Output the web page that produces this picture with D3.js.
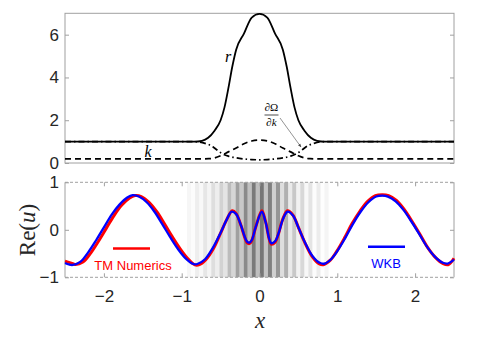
<!DOCTYPE html>
<html><head><meta charset="utf-8">
<script src="https://cdn.jsdelivr.net/npm/d3@7"></script>
<style>body{margin:0;background:#fff}svg{display:block}</style>
</head><body>
<svg id="c" width="504" height="346"></svg>
<script>
// ---------- data ----------
const rX   = [-2.5,-0.84,-0.74,-0.66,-0.58,-0.5,-0.45,-0.4,-0.35,-0.3,-0.2,-0.1,0,0.1,0.2,0.3,0.35,0.4,0.45,0.5,0.58,0.66,0.74,0.84,2.5];
const rY   = [1,1,1.04,1.18,1.5,2.0,2.6,3.5,4.5,5.3,6.05,6.8,6.97,6.8,6.05,5.3,4.5,3.5,2.6,2.0,1.5,1.18,1.04,1,1];
const kX   = [-2.5,-0.75,-0.65,-0.6,-0.5,-0.4,-0.3,-0.2,-0.1,0,0.1,0.2,0.3,0.4,0.5,0.6,0.65,0.75,2.5];
const kY   = [0.19,0.19,0.2,0.22,0.34,0.52,0.7,0.9,1.03,1.07,1.03,0.9,0.7,0.52,0.34,0.22,0.2,0.19,0.19];
const dX   = [-2.5,-0.9,-0.8,-0.7,-0.6,-0.55,-0.47,-0.4,-0.3,-0.2,-0.1,0,0.1,0.2,0.3,0.4,0.47,0.55,0.6,0.7,0.8,0.9,2.5];
const dY   = [1,1,0.99,0.92,0.76,0.62,0.42,0.32,0.24,0.19,0.16,0.15,0.16,0.19,0.24,0.32,0.42,0.62,0.76,0.92,0.99,1,1];

const wkbX = [-2.5,-2.45,-2.4,-2.3,-2.2,-2.1,-2.0,-1.9,-1.8,-1.7,-1.63,-1.55,-1.45,-1.35,-1.25,-1.15,-1.05,-0.95,-0.85,-0.8,-0.7,-0.6,-0.5,-0.42,-0.36,-0.3,-0.24,-0.16,-0.13,-0.1,-0.05,0.03,0.08,0.15,0.2,0.25,0.3,0.36,0.43,0.5,0.58,0.68,0.78,0.84,0.92,1.0,1.1,1.2,1.3,1.4,1.5,1.58,1.65,1.75,1.85,1.95,2.05,2.15,2.25,2.35,2.42,2.5];
const wkbY = [-0.70,-0.73,-0.74,-0.67,-0.47,-0.22,0.05,0.32,0.53,0.68,0.73,0.70,0.58,0.38,0.12,-0.15,-0.40,-0.60,-0.72,-0.72,-0.62,-0.38,-0.06,0.22,0.38,0.33,0.10,-0.25,-0.27,-0.22,0.05,0.38,0.15,-0.28,-0.24,-0.05,0.22,0.38,0.30,0.05,-0.25,-0.55,-0.70,-0.71,-0.62,-0.45,-0.18,0.12,0.38,0.58,0.70,0.72,0.70,0.60,0.42,0.18,-0.08,-0.35,-0.56,-0.69,-0.71,-0.63];
const tmX  = [-2.5,-2.42,-2.37,-2.27,-2.17,-2.07,-1.97,-1.87,-1.77,-1.67,-1.6,-1.52,-1.42,-1.32,-1.22,-1.12,-1.02,-0.92,-0.83,-0.78,-0.69,-0.59,-0.5,-0.42,-0.35,-0.3,-0.24,-0.16,-0.13,-0.1,-0.05,0.03,0.08,0.15,0.2,0.25,0.3,0.36,0.43,0.5,0.58,0.68,0.77,0.83,0.91,0.99,1.09,1.19,1.29,1.39,1.49,1.58,1.66,1.76,1.86,1.96,2.06,2.16,2.26,2.36,2.43,2.5];
const tmY  = [-0.66,-0.70,-0.73,-0.68,-0.49,-0.24,0.03,0.30,0.52,0.67,0.72,0.70,0.58,0.38,0.12,-0.15,-0.40,-0.61,-0.74,-0.74,-0.63,-0.39,-0.07,0.22,0.40,0.34,0.10,-0.27,-0.29,-0.23,0.05,0.40,0.16,-0.30,-0.26,-0.05,0.23,0.40,0.31,0.05,-0.26,-0.57,-0.72,-0.73,-0.64,-0.46,-0.18,0.13,0.39,0.60,0.72,0.74,0.72,0.62,0.43,0.18,-0.09,-0.37,-0.58,-0.71,-0.73,-0.60];

const layerCenters = [-0.906,-0.802,-0.698,-0.594,-0.49,-0.386,-0.282,-0.178,-0.074,0.03,0.134,0.238,0.342,0.446,0.55,0.654,0.758,0.862];
const darkGray  = [246,238,230,222,210,188,160,138,122,118,128,150,176,200,216,228,236,245];
const lightGray = [252,248,244,238,228,214,200,192,190,196,208,222,234,242,248,252,254,255];

const yTopTicks = [0,2,4,6];
const yBotTicks = [-1,0,1];
const xTicks = [-2,-1,0,1,2];

// ---------- layout ----------
const svg = d3.select("#c");
const L = 65, R = 454;
const x = d3.scaleLinear().domain([-2.5,2.5]).range([L,R]);
const yT = d3.scaleLinear().domain([0,7]).range([163,13.3]);
const yB = d3.scaleLinear().domain([-1,1]).range([277.3,182.3]);
const axisCol = "#a0a0a0", txtCol = "#262626";
const tickFont = "Liberation Sans, Arial, sans-serif";

// ---------- top panel ----------
const topG = svg.append("g");
topG.append("rect").attr("x",L).attr("y",yT(7)).attr("width",R-L).attr("height",yT(0)-yT(7))
  .attr("fill","none").attr("stroke",axisCol).attr("stroke-width",1);
const gl = topG.append("g").attr("transform",`translate(${L},0)`)
  .call(d3.axisLeft(yT).tickValues(yTopTicks).tickSize(-4).tickPadding(6).tickFormat(d3.format("d")));
const gr = topG.append("g").attr("transform",`translate(${R},0)`)
  .call(d3.axisRight(yT).tickValues(yTopTicks).tickSize(-4).tickFormat(""));
[gl,gr].forEach(g=>{g.select(".domain").remove();g.selectAll("line").attr("stroke",axisCol);
  g.selectAll("text").attr("fill",txtCol).style("font-family",tickFont).style("font-size","17px");});

const lineT = (xs,ys)=>d3.line().x((d,i)=>x(xs[i])).y((d,i)=>yT(ys[i])).curve(d3.curveMonotoneX)(xs);
topG.append("path").attr("d",lineT(kX,kY)).attr("fill","none").attr("stroke","#000").attr("stroke-width",1.7).attr("stroke-dasharray","6,4");
topG.append("path").attr("d",lineT(dX,dY)).attr("fill","none").attr("stroke","#000").attr("stroke-width",1.7).attr("stroke-dasharray","6,3,1.5,3");
topG.append("path").attr("d",lineT(rX,rY)).attr("fill","none").attr("stroke","#000").attr("stroke-width",1.8);

const serif = "Liberation Serif, DejaVu Serif, serif";
topG.append("text").attr("x",228).attr("y",62).attr("text-anchor","middle").attr("fill","#000").style("font-family",serif).style("font-style","italic").style("font-size","16px").text("r");
topG.append("text").attr("x",148).attr("y",157).attr("text-anchor","middle").attr("fill","#000").style("font-family",serif).style("font-style","italic").style("font-size","16px").text("k");
topG.append("text").attr("x",271.5).attr("y",111).attr("text-anchor","middle").attr("fill","#000").style("font-family",serif).style("font-size","11px").text("∂Ω");
topG.append("line").attr("x1",264.5).attr("x2",278.5).attr("y1",115).attr("y2",115).attr("stroke","#000").attr("stroke-width",0.7);
topG.append("text").attr("x",271.5).attr("y",126).attr("text-anchor","middle").attr("fill","#000").style("font-family",serif).style("font-size","11px").html("∂<tspan font-style='italic'>k</tspan>");
svg.append("defs").append("marker").attr("id","ah").attr("viewBox","0 0 10 10").attr("refX",9).attr("refY",5)
  .attr("markerWidth",5).attr("markerHeight",5).attr("orient","auto")
  .append("path").attr("d","M0,1 L10,5 L0,9 z").attr("fill","#444");
topG.append("line").attr("x1",280).attr("y1",118).attr("x2",301).attr("y2",147).attr("stroke","#666").attr("stroke-width",0.7).attr("marker-end","url(#ah)");

// ---------- bottom panel ----------
const bot = svg.append("g");
const hw = 0.026;
layerCenters.forEach((c,i)=>{
  bot.append("rect").attr("x",x(c+hw)).attr("y",yB(1)).attr("width",x(c+3*hw)-x(c+hw)).attr("height",yB(-1)-yB(1))
    .attr("fill",d3.rgb(lightGray[i],lightGray[i],lightGray[i]));
  bot.append("rect").attr("x",x(c-hw)).attr("y",yB(1)).attr("width",x(c+hw)-x(c-hw)).attr("height",yB(-1)-yB(1))
    .attr("fill",d3.rgb(darkGray[i],darkGray[i],darkGray[i]));
});
bot.append("line").attr("x1",L).attr("x2",R).attr("y1",yB(1)).attr("y2",yB(1)).attr("stroke",axisCol).attr("stroke-dasharray","3,2");
bot.append("line").attr("x1",L).attr("x2",R).attr("y1",yB(-1)).attr("y2",yB(-1)).attr("stroke",axisCol).attr("stroke-dasharray","3,2");
bot.append("line").attr("x1",L).attr("x2",L).attr("y1",yB(1)).attr("y2",yB(-1)).attr("stroke",axisCol);
bot.append("line").attr("x1",R).attr("x2",R).attr("y1",yB(1)).attr("y2",yB(-1)).attr("stroke",axisCol);

const fmt = d=> d<0 ? "\u2212"+Math.abs(d) : String(d);
const bl = bot.append("g").attr("transform",`translate(${L},0)`).call(d3.axisLeft(yB).tickValues(yBotTicks).tickSize(-4).tickPadding(6).tickFormat(fmt));
const br = bot.append("g").attr("transform",`translate(${R},0)`).call(d3.axisRight(yB).tickValues(yBotTicks).tickSize(-4).tickFormat(""));
const bb = bot.append("g").attr("transform",`translate(0,${yB(-1)})`).call(d3.axisBottom(x).tickValues(xTicks).tickSize(-4).tickPadding(13).tickFormat(fmt));
const bt = bot.append("g").attr("transform",`translate(0,${yB(1)})`).call(d3.axisTop(x).tickValues(xTicks).tickSize(-4).tickFormat(""));
[bl,br,bb,bt].forEach(g=>{g.select(".domain").remove();g.selectAll("line").attr("stroke",axisCol);
  g.selectAll("text").attr("fill",txtCol).style("font-family",tickFont).style("font-size","17px");});

const lineB = (xs,ys)=>d3.line().x((d,i)=>x(xs[i])).y((d,i)=>yB(ys[i])).curve(d3.curveCatmullRom.alpha(0.5))(xs);
bot.append("path").attr("d",lineB(tmX,tmY)).attr("fill","none").attr("stroke","#ff0000").attr("stroke-width",3);
bot.append("path").attr("d",lineB(wkbX,wkbY)).attr("fill","none").attr("stroke","#0000ff").attr("stroke-width",2.3);

// legends
bot.append("line").attr("x1",113).attr("x2",150).attr("y1",248.5).attr("y2",248.5).attr("stroke","#ff0000").attr("stroke-width",2.5);
bot.append("text").attr("x",133).attr("y",270).attr("text-anchor","middle").attr("fill","#ff0000").style("font-family",tickFont).style("font-size","13px").text("TM Numerics");
bot.append("line").attr("x1",368).attr("x2",405).attr("y1",246.7).attr("y2",246.7).attr("stroke","#0000ff").attr("stroke-width",2.5);
bot.append("text").attr("x",386).attr("y",268).attr("text-anchor","middle").attr("fill","#0000ff").style("font-family",tickFont).style("font-size","13px").text("WKB");

// axis labels
svg.append("text").attr("transform","translate(35,230) rotate(-90)").attr("text-anchor","middle").attr("fill",txtCol)
  .style("font-family",serif).style("font-size","23px").html("Re(<tspan font-style='italic'>u</tspan>)");
svg.append("text").attr("x",260).attr("y",328).attr("text-anchor","middle").attr("fill",txtCol)
  .style("font-family",serif).style("font-style","italic").style("font-size","23px").text("x");
</script>
</body></html>
